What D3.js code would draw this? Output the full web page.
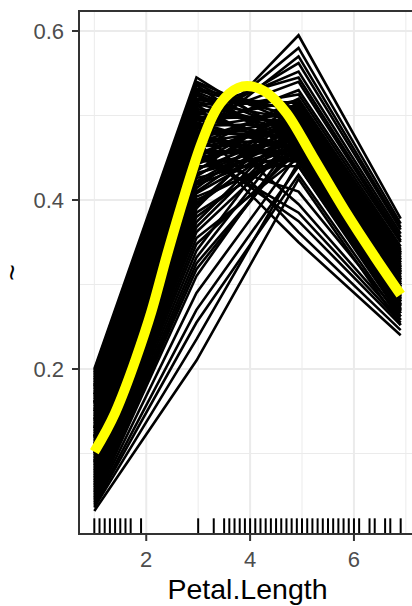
<!DOCTYPE html>
<html lang="en">
<head>
    <meta charset="UTF-8">
    <title>ICE Petal.Length</title>
    <script src="https://cdn.jsdelivr.net/npm/d3@7"></script>
    <style>
        body{
            margin:0;
            background:#fff;
            font-family:"Liberation Sans", Arial, sans-serif;
        }
        .tick-label{
            font-size:22px;
            fill:#4D4D4D;
        }
        .axis-title{
            font-size:28.5px;
            fill:#000;
        }
    </style>
</head>
<body>

<script>
    var width = 412,
        height = 606;

    // grid points where every ICE curve was evaluated
    var gridX = [1, 2.967, 4.933, 6.9];

    // one row per observation: yhat at each grid point
    var iceCurves = [
        [0.200, 0.545, 0.470, 0.300],
        [0.198, 0.538, 0.476, 0.308],
        [0.196, 0.540, 0.488, 0.315],
        [0.194, 0.530, 0.498, 0.322],
        [0.192, 0.536, 0.452, 0.290],
        [0.190, 0.526, 0.466, 0.296],
        [0.188, 0.532, 0.505, 0.330],
        [0.186, 0.518, 0.510, 0.336],
        [0.184, 0.528, 0.478, 0.305],
        [0.182, 0.514, 0.484, 0.302],
        [0.180, 0.524, 0.462, 0.282],
        [0.178, 0.506, 0.455, 0.280],
        [0.176, 0.520, 0.515, 0.338],
        [0.174, 0.502, 0.492, 0.316],
        [0.172, 0.516, 0.495, 0.320],
        [0.170, 0.498, 0.470, 0.292],
        [0.168, 0.512, 0.448, 0.275],
        [0.166, 0.494, 0.518, 0.342],
        [0.164, 0.508, 0.482, 0.298],
        [0.162, 0.490, 0.460, 0.284],
        [0.160, 0.504, 0.525, 0.345],
        [0.158, 0.486, 0.504, 0.330],
        [0.156, 0.500, 0.468, 0.286],
        [0.154, 0.482, 0.480, 0.300],
        [0.152, 0.496, 0.500, 0.326],
        [0.150, 0.478, 0.450, 0.274],
        [0.148, 0.492, 0.458, 0.270],
        [0.146, 0.474, 0.496, 0.320],
        [0.144, 0.488, 0.490, 0.310],
        [0.142, 0.470, 0.468, 0.290],
        [0.140, 0.484, 0.530, 0.350],
        [0.138, 0.466, 0.514, 0.336],
        [0.136, 0.480, 0.475, 0.292],
        [0.134, 0.462, 0.486, 0.306],
        [0.132, 0.476, 0.445, 0.268],
        [0.130, 0.458, 0.458, 0.278],
        [0.128, 0.472, 0.510, 0.334],
        [0.126, 0.454, 0.502, 0.324],
        [0.124, 0.468, 0.486, 0.302],
        [0.122, 0.450, 0.474, 0.296],
        [0.120, 0.464, 0.465, 0.284],
        [0.118, 0.446, 0.446, 0.266],
        [0.116, 0.460, 0.520, 0.340],
        [0.114, 0.442, 0.494, 0.314],
        [0.112, 0.456, 0.455, 0.276],
        [0.110, 0.438, 0.468, 0.288],
        [0.108, 0.452, 0.498, 0.318],
        [0.106, 0.434, 0.516, 0.338],
        [0.104, 0.448, 0.472, 0.294],
        [0.102, 0.430, 0.480, 0.300],
        [0.100, 0.444, 0.508, 0.328],
        [0.098, 0.426, 0.454, 0.276],
        [0.096, 0.440, 0.440, 0.262],
        [0.094, 0.422, 0.490, 0.312],
        [0.092, 0.436, 0.484, 0.306],
        [0.090, 0.418, 0.464, 0.284],
        [0.088, 0.432, 0.462, 0.288],
        [0.086, 0.414, 0.506, 0.326],
        [0.084, 0.428, 0.502, 0.322],
        [0.082, 0.408, 0.476, 0.298],
        [0.080, 0.420, 0.478, 0.300],
        [0.078, 0.404, 0.452, 0.270],
        [0.076, 0.410, 0.492, 0.312],
        [0.074, 0.396, 0.498, 0.316],
        [0.072, 0.400, 0.458, 0.280],
        [0.070, 0.394, 0.482, 0.304],
        [0.068, 0.390, 0.512, 0.332],
        [0.066, 0.385, 0.462, 0.282],
        [0.064, 0.380, 0.470, 0.290],
        [0.062, 0.374, 0.494, 0.314],
        [0.060, 0.368, 0.488, 0.308],
        [0.058, 0.362, 0.476, 0.294],
        [0.056, 0.355, 0.450, 0.272],
        [0.054, 0.348, 0.458, 0.276],
        [0.052, 0.340, 0.500, 0.318],
        [0.050, 0.332, 0.486, 0.306],
        [0.048, 0.325, 0.466, 0.286],
        [0.046, 0.318, 0.470, 0.288],
        [0.044, 0.310, 0.480, 0.298],
        [0.042, 0.290, 0.455, 0.280],
        [0.040, 0.270, 0.440, 0.266],
        [0.038, 0.255, 0.430, 0.258],
        [0.036, 0.235, 0.445, 0.270],
        [0.032, 0.210, 0.425, 0.252],
        [0.150, 0.470, 0.595, 0.378],
        [0.130, 0.480, 0.580, 0.372],
        [0.120, 0.475, 0.570, 0.368],
        [0.120, 0.490, 0.562, 0.365],
        [0.110, 0.500, 0.552, 0.360],
        [0.170, 0.510, 0.545, 0.356],
        [0.160, 0.495, 0.540, 0.352],
        [0.140, 0.470, 0.350, 0.240],
        [0.160, 0.490, 0.362, 0.246],
        [0.100, 0.460, 0.375, 0.252],
        [0.130, 0.455, 0.385, 0.255],
        [0.180, 0.500, 0.395, 0.258],
        [0.090, 0.450, 0.410, 0.262]
    ];

    // smoothed average curve (yellow)
    var smoothX = [1.0, 1.4, 1.8, 2.1, 2.4, 2.75, 3.04, 3.3, 3.6, 3.94, 4.3, 4.7, 5.2, 5.85, 6.4, 6.9];
    var smoothY = [0.102, 0.148, 0.212, 0.268, 0.335, 0.408, 0.463, 0.502, 0.526, 0.535, 0.528, 0.503, 0.452, 0.385, 0.333, 0.288];

    // observed Petal.Length values for the rug
    var rugX = [1.0, 1.1, 1.2, 1.3, 1.4, 1.5, 1.6, 1.7, 1.9, 3.0, 3.3, 3.5, 3.6, 3.7, 3.8, 3.9,
                4.0, 4.1, 4.2, 4.3, 4.4, 4.5, 4.6, 4.7, 4.8, 4.9, 5.0, 5.1, 5.2, 5.3, 5.4, 5.5,
                5.6, 5.7, 5.8, 5.9, 6.0, 6.1, 6.3, 6.4, 6.6, 6.7, 6.9];

    var xTicks = [2, 4, 6],
        xMinor = [1, 3, 5, 7],
        yTicks = [0.2, 0.4, 0.6],
        yMinor = [0.1, 0.3, 0.5];

    var panel = {left: 79, top: 11, right: 416, bottom: 534};

    var x = d3.scaleLinear().domain([0.705, 7.195]).range([panel.left, panel.right]);
    var y = d3.scaleLinear().domain([0.0047, 0.6237]).range([panel.bottom, panel.top]);

    var svg = d3.select('body').append('svg')
        .attr('width', width)
        .attr('height', height);

    svg.append('clipPath').attr('id', 'clip')
        .append('rect')
        .attr('x', panel.left).attr('y', panel.top)
        .attr('width', panel.right - panel.left)
        .attr('height', panel.bottom - panel.top);

    var plot = svg.append('g').attr('clip-path', 'url(#clip)');

    //网格线
    plot.selectAll('.vminor').data(xMinor).enter().append('line')
        .attr('x1', x).attr('x2', x)
        .attr('y1', panel.top).attr('y2', panel.bottom)
        .attr('stroke', '#EBEBEB').attr('stroke-width', 1);
    plot.selectAll('.hminor').data(yMinor).enter().append('line')
        .attr('y1', y).attr('y2', y)
        .attr('x1', panel.left).attr('x2', panel.right)
        .attr('stroke', '#EBEBEB').attr('stroke-width', 1);
    plot.selectAll('.vmajor').data(xTicks).enter().append('line')
        .attr('x1', x).attr('x2', x)
        .attr('y1', panel.top).attr('y2', panel.bottom)
        .attr('stroke', '#EBEBEB').attr('stroke-width', 2);
    plot.selectAll('.hmajor').data(yTicks).enter().append('line')
        .attr('y1', y).attr('y2', y)
        .attr('x1', panel.left).attr('x2', panel.right)
        .attr('stroke', '#EBEBEB').attr('stroke-width', 2);

    // ICE curves
    var iceLine = d3.line()
        .x(function(d, i){ return x(gridX[i]); })
        .y(function(d){ return y(d); });

    plot.selectAll('.ice').data(iceCurves).enter().append('path')
        .attr('class', 'ice')
        .attr('d', iceLine)
        .attr('fill', 'none')
        .attr('stroke', '#000')
        .attr('stroke-width', 2.6)
        .attr('stroke-linejoin', 'miter');

    // average curve
    var smoothLine = d3.line()
        .x(function(d){ return x(d); })
        .y(function(d, i){ return y(smoothY[i]); })
        .curve(d3.curveMonotoneX);

    plot.append('path')
        .datum(smoothX)
        .attr('d', smoothLine)
        .attr('fill', 'none')
        .attr('stroke', '#FFFF00')
        .attr('stroke-width', 10);

    // rug
    var rugLen = (panel.bottom - panel.top) * 0.03;
    plot.selectAll('.rug').data(rugX).enter().append('line')
        .attr('x1', x).attr('x2', x)
        .attr('y1', panel.bottom - rugLen).attr('y2', panel.bottom)
        .attr('stroke', '#000').attr('stroke-width', 2);

    // panel border
    svg.append('rect')
        .attr('x', panel.left).attr('y', panel.top)
        .attr('width', panel.right - panel.left)
        .attr('height', panel.bottom - panel.top)
        .attr('fill', 'none')
        .attr('stroke', '#333333')
        .attr('stroke-width', 2);

    // axes
    var tickLen = 7;
    svg.selectAll('.xtick').data(xTicks).enter().append('line')
        .attr('x1', x).attr('x2', x)
        .attr('y1', panel.bottom).attr('y2', panel.bottom + tickLen)
        .attr('stroke', '#333333').attr('stroke-width', 2);
    svg.selectAll('.xlab').data(xTicks).enter().append('text')
        .attr('class', 'tick-label')
        .attr('x', x).attr('y', 567)
        .attr('text-anchor', 'middle')
        .text(function(d){ return d; });

    svg.selectAll('.ytick').data(yTicks).enter().append('line')
        .attr('y1', y).attr('y2', y)
        .attr('x1', panel.left - tickLen).attr('x2', panel.left)
        .attr('stroke', '#333333').attr('stroke-width', 2);
    svg.selectAll('.ylab').data(yTicks).enter().append('text')
        .attr('class', 'tick-label')
        .attr('x', 64).attr('y', function(d){ return y(d) + 8; })
        .attr('text-anchor', 'end')
        .text(function(d){ return d3.format('.1f')(d); });

    svg.append('text')
        .attr('class', 'axis-title')
        .attr('x', (panel.left + panel.right) / 2).attr('y', 599)
        .attr('text-anchor', 'middle')
        .text('Petal.Length');

    svg.append('text')
        .attr('class', 'axis-title')
        .attr('transform', 'translate(22,' + (panel.top + panel.bottom) / 2 + ') rotate(-90)')
        .attr('text-anchor', 'middle')
        .text('~');
</script>
</body>
</html>
